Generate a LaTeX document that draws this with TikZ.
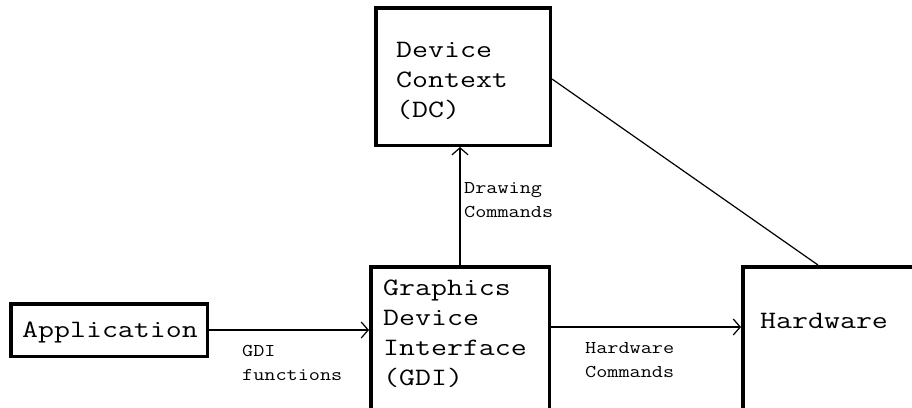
\documentclass[tikz,border=0pt]{standalone}
\usepackage{fontspec}
\newfontfamily\courbig[FakeStretch=1.24]{Latin Modern Mono}
\newfontfamily\coursmall[FakeStretch=1.2]{Latin Modern Mono}
\usetikzlibrary{arrows.meta,calc}
\begin{document}
\begin{tikzpicture}[x=1pt,y=-1pt,
  box/.style={draw, line width=3.5pt, inner sep=0pt, rectangle},
  big/.style={font=\courbig\fontsize{25}{29.8}\selectfont, align=left, anchor=base west, inner sep=0pt},
  small/.style={font=\coursmall\fontsize{18}{23.5}\selectfont, align=left, anchor=base west, inner sep=0pt},
  conn/.style={line width=1.2pt},
  arr/.style={line width=1.2pt, -{Straight Barb[length=7pt,width=16pt,line width=1.2pt]}}]
\useasboundingbox (0,0) rectangle (912,407);
% boxes
\node[box, minimum width=196.5pt, minimum height=52.5pt] (app) at (109,330) {};
\node[box, minimum width=178.5pt, minimum height=163.25pt] (gdi) at (460,348.4) {};
\node[box, minimum width=174.5pt, minimum height=137.5pt] (dc) at (463,76.5) {};
\node[box, minimum width=187.25pt, minimum height=163.25pt] (hw) at (836.4,348.4) {};
% box texts (anchor at baseline of last line)
\node[big] (apptxt) at (22,337) {Application};
\node[big] (gditxt) at (383,385) {Graphics\\Device\\Interface\\(GDI)};
\node[big] (dctxt) at (396,117) {Device\\Context\\(DC)};
\node[big] (hwtxt) at (760,328) {Hardware};
% connectors
\draw[arr] (app.east) -- (app.east -| gdi.west);
\draw[arr] (gdi.east |- 0,327) -- (hw.west |- 0,327);
\draw[arr] (gdi.north) -- (gdi.north |- dc.south);
\draw[conn] (dc.east |- 0,79) -- ([xshift=77pt]hw.north west);
% connector labels
\node[small] (l1) at (242,380) {GDI\\functions};
\node[small] (l2) at (464,217) {Drawing\\Commands};
\node[small] (l3) at (585,377) {Hardware\\Commands};
\end{tikzpicture}
\end{document}
